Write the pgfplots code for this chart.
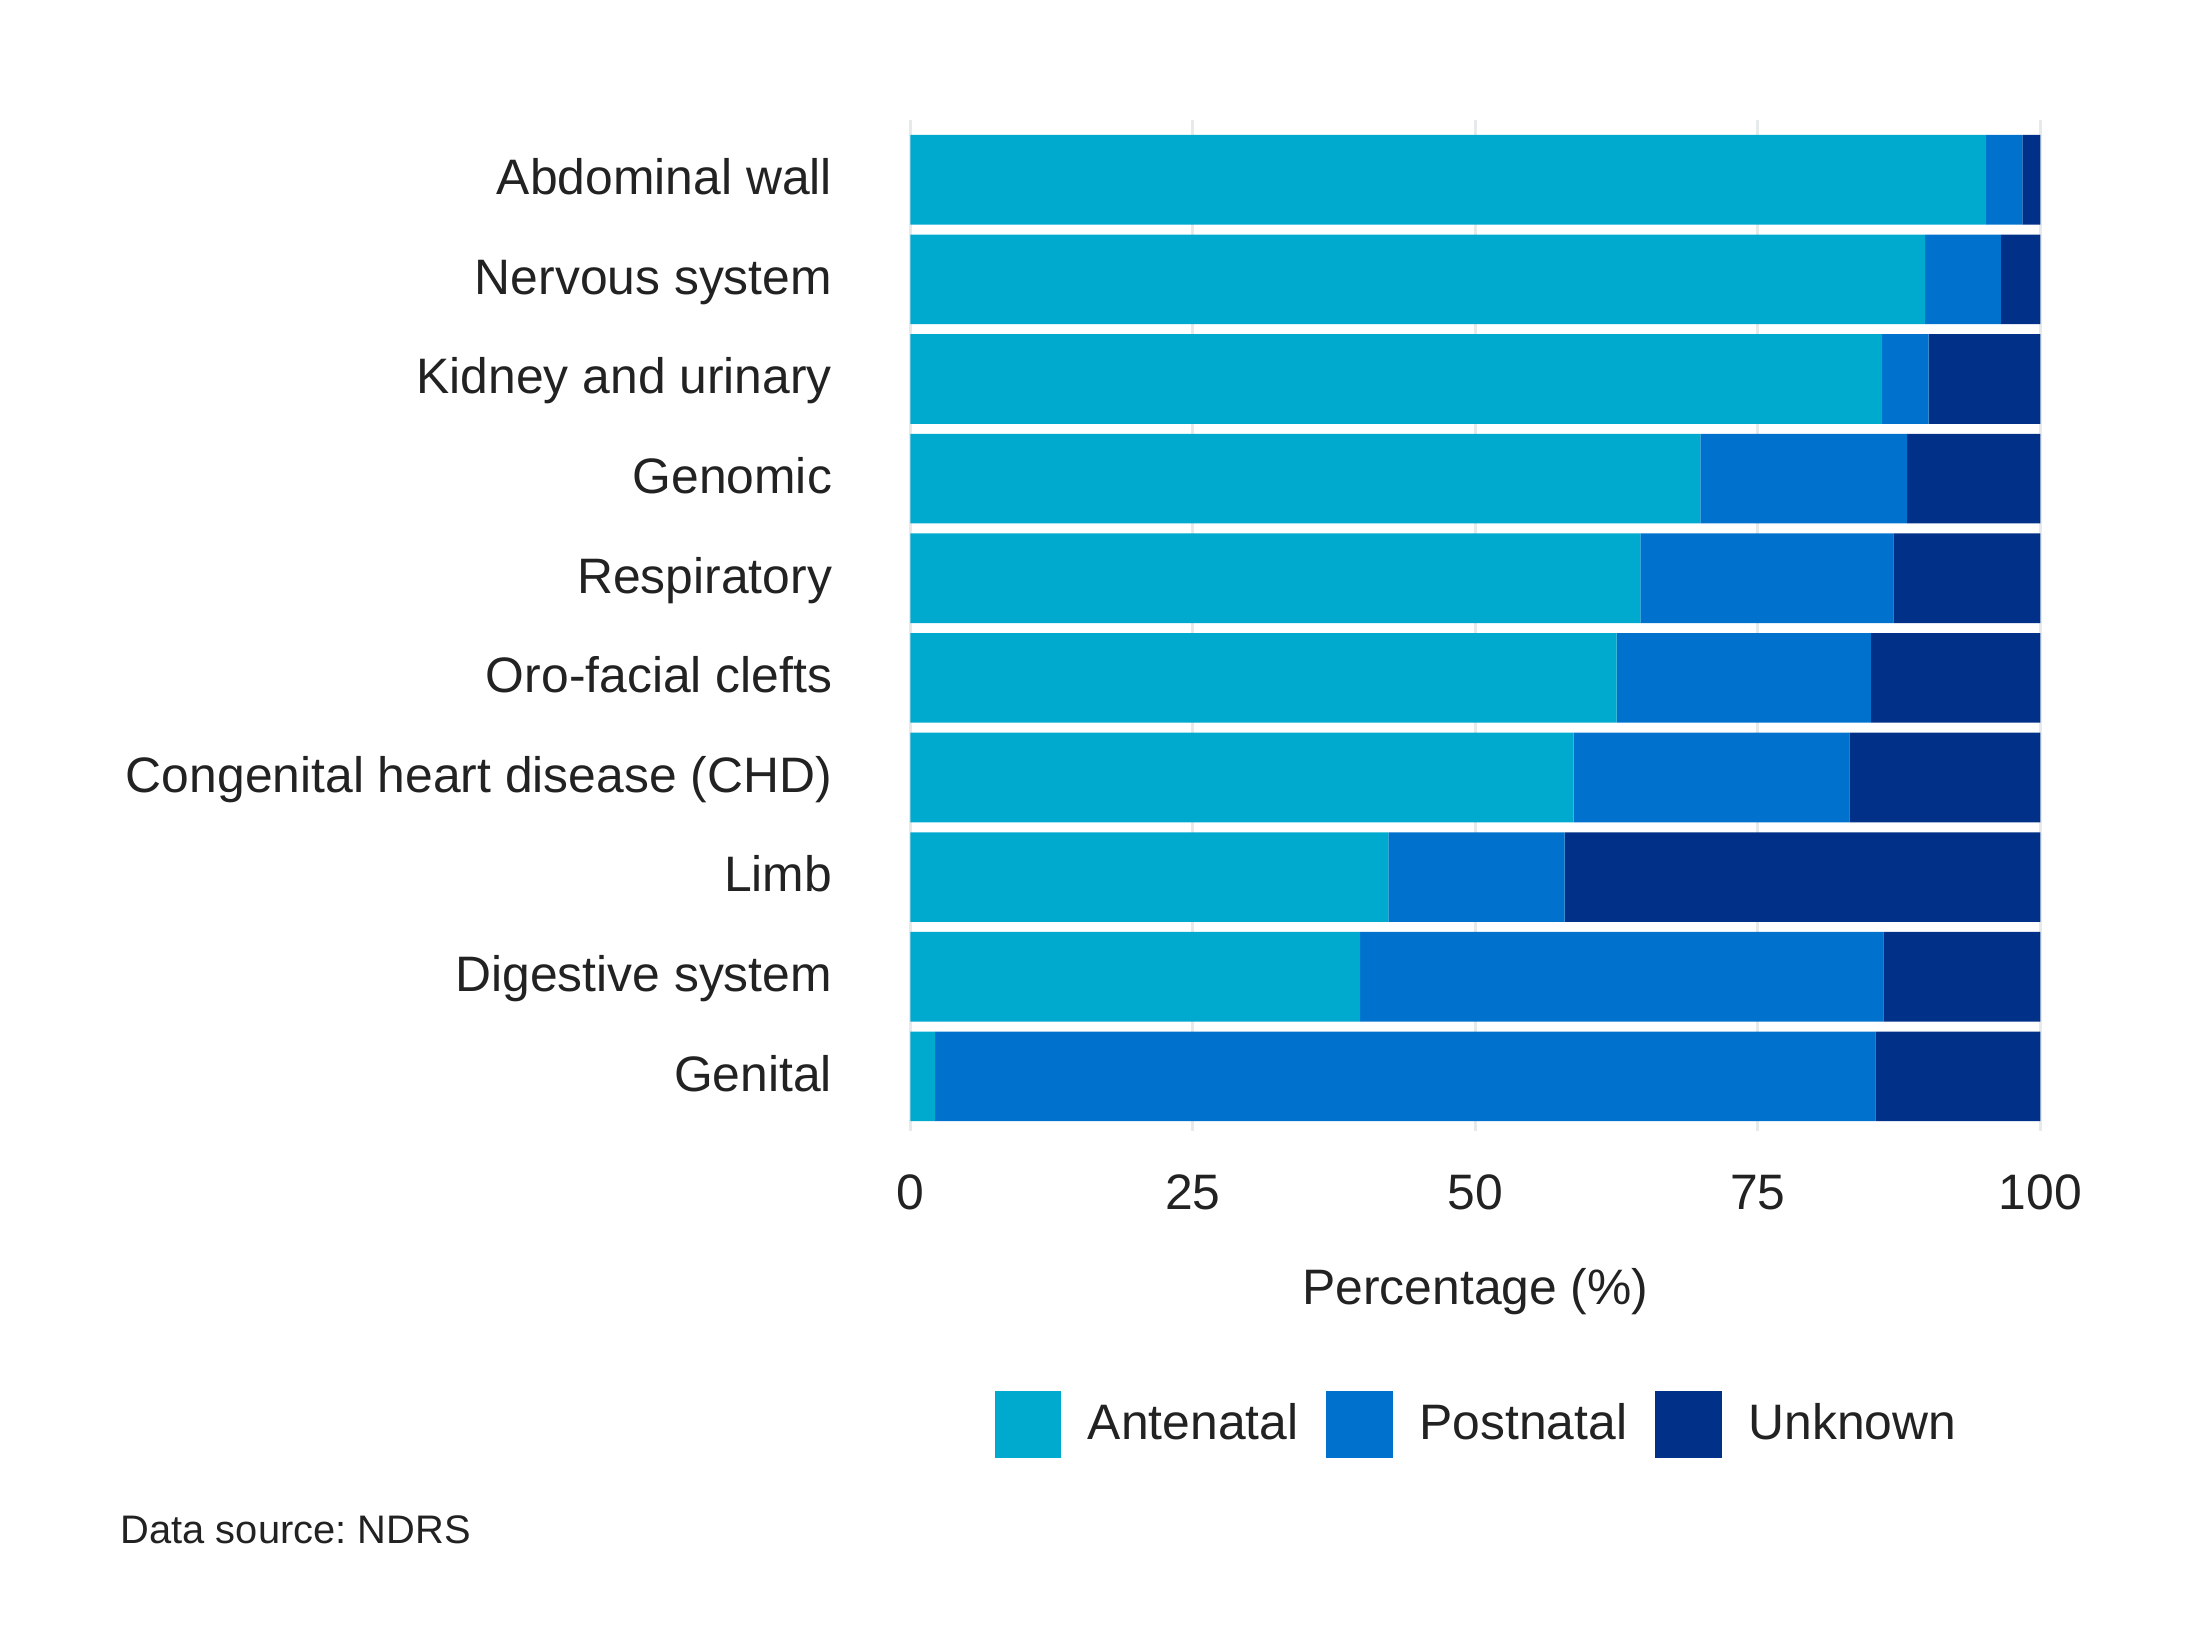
\documentclass[border=0pt]{standalone}
\usepackage{pgfplots}
\pgfplotsset{compat=1.18}
\usepackage{fontspec}
\setmainfont{Liberation Sans}

\definecolor{antenatal}{HTML}{00A9CE}
\definecolor{postnatal}{HTML}{0072CE}
\definecolor{unknown}{HTML}{003087}
\definecolor{txt}{HTML}{222222}
\definecolor{gridc}{HTML}{E6EAEA}

\begin{document}
\frenchspacing
\begin{tikzpicture}[font=\fontsize{12.5}{15}\selectfont, text=txt]
  \begin{axis}[
    scale only axis,
    width=282.5bp,
    height=252.8bp,
    xbar stacked,
    bar width=0.9,
    xmin=0, xmax=100,
    ymin=-0.55, ymax=9.6,
    xtick={0,25,50,75,100},
    ytick={0,...,9},
    yticklabels={Genital,Digestive system,Limb,Congenital heart disease (CHD),Oro-facial clefts,Respiratory,Genomic,Kidney and urinary,Nervous system,Abdominal wall},
    axis line style={draw=none},
    major tick length=0pt,
    xmajorgrids,
    grid style={gridc, line width=0.75bp},
    /pgf/number format/assume math mode=true,
    xticklabel style={anchor=center, inner sep=0pt, yshift=-15.25bp, text=txt},
    yticklabel style={anchor=east, inner sep=0pt, xshift=-19.4bp, text=txt,
      text height=0.74em, text depth=0em},
    xlabel={Percentage (\%)},
    xlabel style={at={(axis description cs:0.5,0)}, anchor=center, yshift=-40bp, inner sep=0pt},
    legend columns=3,
    legend style={at={(0.5,0)}, anchor=center, yshift=-73.3bp, draw=none, fill=none,
      nodes={inner sep=0pt, anchor=west},
      /tikz/every odd column/.append style={column sep=6.7bp},
      /tikz/every even column/.append style={column sep=7bp}},
    legend image code/.code={\fill[#1] (0bp,-8.3bp) rectangle (16.6bp,8.3bp);},
  ]
    \addplot[fill=antenatal, draw=none] coordinates {
      (2.2,0) (39.8,1) (42.3,2) (58.7,3) (62.5,4) (64.6,5) (69.9,6) (86.0,7) (89.8,8) (95.2,9)
    };
    \addplot[fill=postnatal, draw=none] coordinates {
      (83.2,0) (46.3,1) (15.6,2) (24.4,3) (22.5,4) (22.4,5) (18.3,6) (4.1,7) (6.7,8) (3.2,9)
    };
    \addplot[fill=unknown, draw=none] coordinates {
      (14.6,0) (13.9,1) (42.1,2) (16.9,3) (15.0,4) (13.0,5) (11.8,6) (9.9,7) (3.5,8) (1.6,9)
    };
    \legend{Antenatal,Postnatal,Unknown}
  \end{axis}
  \node[anchor=west, inner sep=0pt, font=\fontsize{10}{12}\selectfont] at (-197.6bp,-99.75bp) {Data source: NDRS};
  \path[use as bounding box] (-227.6bp,-129.75bp) rectangle (322.4bp,282.8bp);
\end{tikzpicture}
\end{document}
